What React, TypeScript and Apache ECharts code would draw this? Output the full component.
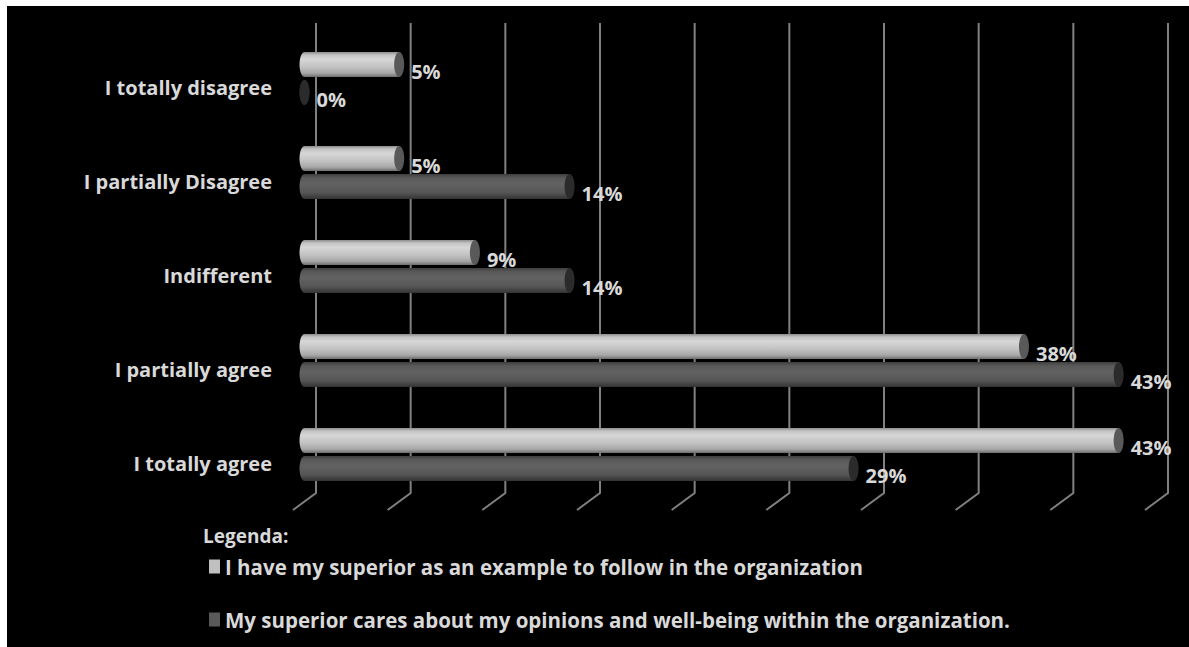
import React, { useEffect, useRef } from "react";
import * as echarts from "echarts";

const categories = [
  "I totally disagree",
  "I partially Disagree",
  "Indifferent",
  "I partially agree",
  "I totally agree",
];
const exampleValues = [5, 5, 9, 38, 43];
const caresValues = [0, 14, 14, 43, 29];
const gridTicks = [0, 5, 10, 15, 20, 25, 30, 35, 40, 45];
const seriesNames = [
  "I have my superior as an example to follow in the organization",
  "My superior cares about my opinions and well-being within the organization.",
];
const legendTitle = "Legenda:";

const FONT = "'Open Sans', 'Noto Sans', sans-serif";
const TEXT = "#d9d9d9";
const DEPTH_X = -23;
const DEPTH_Y = 17;
const BAR_H = 25;
const BAR_GAP = 1.5;
const CAP_RX = 5;

function barRender(light: boolean) {
  return (params: any, api: any) => {
    const v = api.value(0);
    const c = api.value(1);
    const end = api.coord([v, c]);
    const start = api.coord([0, c]);
    const y0 = light ? end[1] - BAR_GAP - BAR_H : end[1] + BAR_GAP;
    const cy = y0 + BAR_H / 2;
    const grad = light
      ? new echarts.graphic.LinearGradient(0, 0, 0, 1, [
          { offset: 0, color: "#8c8c8c" },
          { offset: 0.12, color: "#c4c4c4" },
          { offset: 0.3, color: "#d6d6d6" },
          { offset: 0.6, color: "#c2c2c2" },
          { offset: 0.85, color: "#a6a6a6" },
          { offset: 1, color: "#6e6e6e" },
        ])
      : new echarts.graphic.LinearGradient(0, 0, 0, 1, [
          { offset: 0, color: "#3e3e3e" },
          { offset: 0.15, color: "#595959" },
          { offset: 0.4, color: "#626262" },
          { offset: 0.75, color: "#555555" },
          { offset: 1, color: "#333333" },
        ]);
    const cap = light ? "#595959" : "#2b2b2b";
    return {
      type: "group",
      children: [
        {
          type: "ellipse",
          shape: { cx: start[0], cy, rx: CAP_RX, ry: BAR_H / 2 },
          style: { fill: v === 0 ? cap : grad },
        },
        {
          type: "rect",
          shape: { x: start[0], y: y0, width: end[0] - start[0], height: BAR_H },
          style: { fill: grad },
        },
        {
          type: "ellipse",
          shape: { cx: end[0], cy, rx: CAP_RX, ry: BAR_H / 2 },
          style: { fill: cap },
        },
        {
          type: "text",
          style: {
            text: v + "%",
            x: end[0] + CAP_RX + 7,
            y: cy + 7,
            verticalAlign: "middle",
            align: "left",
            fill: TEXT,
            fontSize: 20,
            fontWeight: "bold",
            fontFamily: FONT,
          },
        },
      ],
    };
  };
}

export default function App() {
  const ref = useRef<HTMLDivElement>(null);
  useEffect(() => {
    if (!ref.current) return;
    const chart = echarts.init(ref.current, null, { renderer: "svg" });
    const catIdx = categories.map((_, i) => i);
    chart.setOption({
      animation: false,
      backgroundColor: "#000",
      title: {
        text: legendTitle,
        left: 191,
        top: 515,
        padding: 5,
        textStyle: { color: TEXT, fontFamily: FONT, fontWeight: "bold", fontSize: 19 },
      },
      legend: {
        orient: "vertical",
        left: 197,
        top: 545,
        padding: 5,
        icon: "rect",
        itemWidth: 11,
        itemHeight: 14,
        itemGap: 32,
        data: seriesNames,
        textStyle: {
          color: TEXT,
          fontFamily: FONT,
          fontWeight: "bold",
          fontSize: 20.5,
          lineHeight: 20,
        },
      },
      grid: [
        { left: 309, top: 17, width: 852, height: 470 },
        { left: 297.5, top: 25.5, width: 852, height: 470 },
        { left: 286, top: 34, width: 852, height: 470 },
      ],
      xAxis: [
        { type: "value", gridIndex: 0, min: 0, max: 45, interval: 5, show: false },
        { type: "value", gridIndex: 1, min: 0, max: 45, interval: 5, show: false },
        { type: "value", gridIndex: 2, min: 0, max: 45, interval: 5, show: false },
      ],
      yAxis: [
        { type: "value", gridIndex: 0, min: 0, max: 1, show: false },
        { type: "category", gridIndex: 1, data: categories, inverse: true, show: false },
        {
          type: "category",
          gridIndex: 2,
          data: categories,
          inverse: true,
          axisLine: { show: false },
          axisTick: { show: false },
          splitLine: { show: false },
          axisLabel: {
            margin: 21,
            color: TEXT,
            fontFamily: FONT,
            fontWeight: "bold",
            fontSize: 20,
          },
        },
      ],
      series: [
        {
          type: "custom",
          name: "walls",
          xAxisIndex: 0,
          yAxisIndex: 0,
          silent: true,
          z: 1,
          data: gridTicks.map((t) => [t]),
          renderItem: (params: any, api: any) => {
            const v = api.value(0);
            const top = api.coord([v, 1]);
            const bot = api.coord([v, 0]);
            return {
              type: "polyline",
              shape: {
                points: [top, bot, [bot[0] + DEPTH_X, bot[1] + DEPTH_Y]],
              },
              style: { stroke: "#808080", lineWidth: 2, fill: null },
            };
          },
        },
        {
          type: "custom",
          name: seriesNames[0],
          xAxisIndex: 1,
          yAxisIndex: 1,
          z: 3,
          itemStyle: { color: "#c0c0c0" },
          data: exampleValues.map((v, i) => [v, catIdx[i]]),
          renderItem: barRender(true),
        },
        {
          type: "custom",
          name: seriesNames[1],
          xAxisIndex: 1,
          yAxisIndex: 1,
          z: 3,
          itemStyle: { color: "#595959" },
          data: caresValues.map((v, i) => [v, catIdx[i]]),
          renderItem: barRender(false),
        },
      ],
    });
    return () => chart.dispose();
  }, []);
  return (
    <div
      ref={ref}
      style={{
        position: "fixed",
        left: 7,
        top: 6,
        width: 1182,
        height: 641,
        background: "#000",
      }}
    />
  );
}
